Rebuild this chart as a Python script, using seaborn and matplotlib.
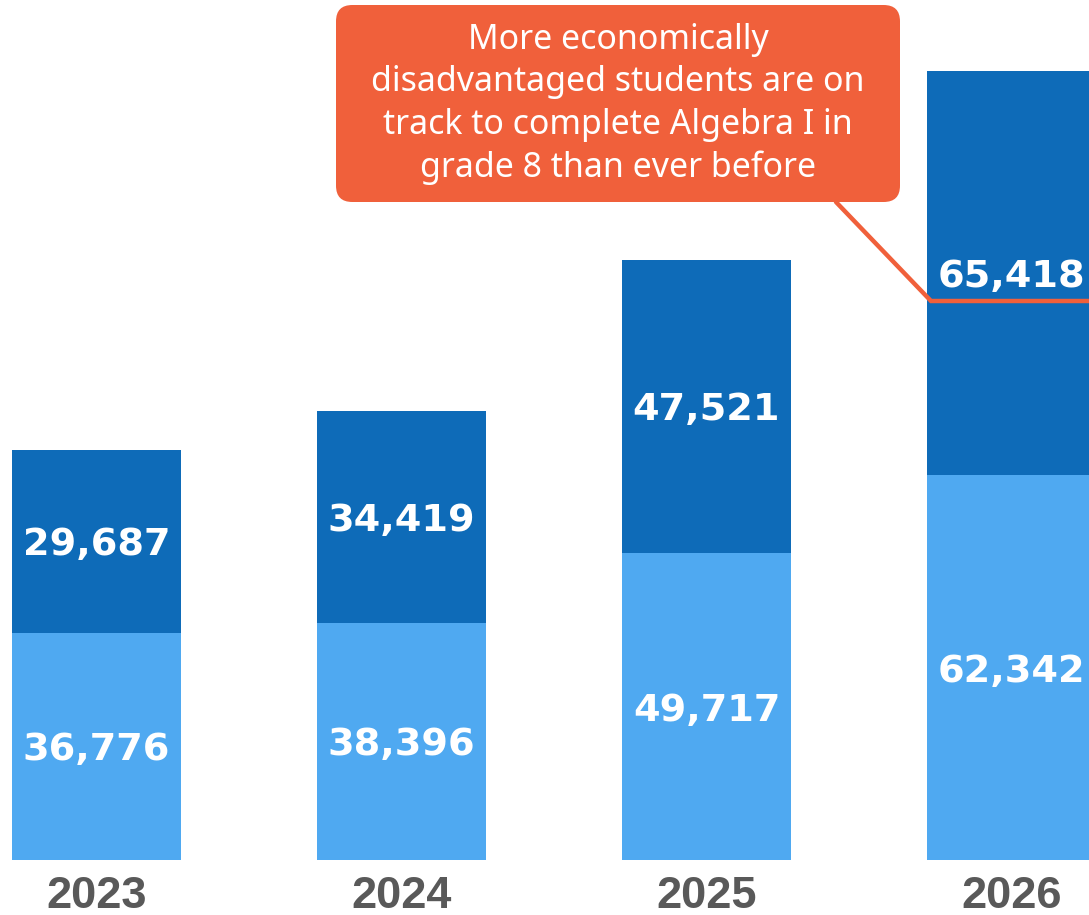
import matplotlib
matplotlib.use('Agg')
import matplotlib.pyplot as plt
import seaborn as sns
import pandas as pd
from matplotlib.patches import FancyBboxPatch
from matplotlib.lines import Line2D

years = ['2023', '2024', '2025', '2026']
bottom_vals = [36776, 38396, 49717, 62342]
top_vals = [29687, 34419, 47521, 65418]
callout = "More economically\ndisadvantaged students are on\ntrack to complete Algebra I in\ngrade 8 than ever before"

DARK = '#0E6BB8'
LIGHT = '#4FA9F1'
ORANGE = '#F0603B'
GRAY = '#595959'

sns.set_theme(style='white')
plt.rcParams['font.family'] = ['Liberation Sans', 'DejaVu Sans']

W, H = 1089, 915
fig = plt.figure(figsize=(W / 100, H / 100), dpi=100)
ax = fig.add_axes([0, 55 / H, 1, 860 / H])

totals = [b + t for b, t in zip(bottom_vals, top_vals)]
df = pd.DataFrame({'year': years, 'bottom': bottom_vals, 'top': top_vals, 'total': totals})

sns.barplot(data=df, x='year', y='total', color=DARK, saturation=1, width=0.555, ax=ax,
            linewidth=0)
sns.barplot(data=df, x='year', y='bottom', color=LIGHT, saturation=1, width=0.555, ax=ax,
            linewidth=0)

lab_font = dict(ha='center', va='center_baseline', color='white', fontsize=27.5,
                fontweight='bold', family=['DejaVu Sans'])
for i, (b, t) in enumerate(zip(bottom_vals, top_vals)):
    ax.text(i, b / 2, f"{b:,}", **lab_font)
    ax.text(i, b + t / 2, f"{t:,}", **lab_font)

ax.set_xlim(-0.316, 3.254)
ax.set_ylim(0, 860 * 162.0)
ax.set_yticks([])
ax.set_xlabel('')
ax.set_ylabel('')
for s in ax.spines.values():
    s.set_visible(False)
ax.set_xticks(range(len(years)))
ax.set_xticklabels([])
ax.tick_params(axis='x', length=0)

def fx(px):
    return px / W

def fy(py):
    return 1 - py / H

# year labels under the bars
for i, yr in enumerate(years):
    ax.annotate(yr, xy=(i, 0), xycoords=('data', 'axes fraction'),
                xytext=(0, -(908 - 860) * 0.72), textcoords='offset points',
                ha='center', va='baseline', fontsize=32.5, fontweight='bold',
                color=GRAY, annotation_clip=False)

# callout connector
fig.add_artist(Line2D([fx(836), fx(931), fx(1089)], [fy(202), fy(301), fy(301)],
                      transform=fig.transFigure, color=ORANGE, lw=3.2,
                      solid_joinstyle='miter', zorder=5))

# callout box
box = FancyBboxPatch((fx(336), fy(202)), fx(900) - fx(336), fy(5) - fy(202),
                     boxstyle='round,pad=0,rounding_size=0.015',
                     transform=fig.transFigure, facecolor=ORANGE, edgecolor='none',
                     zorder=6, mutation_aspect=W / H)
fig.add_artist(box)
fig.text(fx(618), fy(104), callout, ha='center', va='center', color='white',
         fontsize=24.4, family=['Noto Sans', 'DejaVu Sans'], linespacing=1.32, zorder=7)

fig.savefig('out.png', dpi=100)
